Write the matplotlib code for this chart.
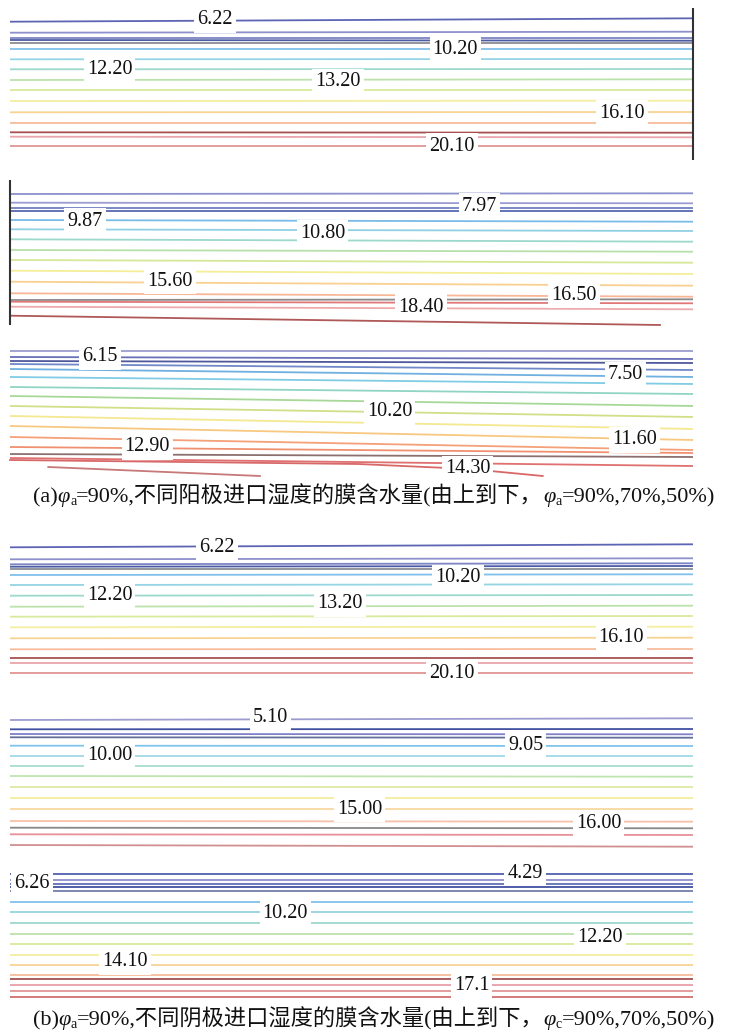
import matplotlib
matplotlib.use("Agg")
import matplotlib.pyplot as plt

# ===== 等值线数据（通道位置 0→1，y = 距面板顶部的像素位置）=====
# 面板1：阳极 90%
p1_left = [21.7, 32.7, 37.7, 40.0, 42.7, 49.3, 59.3, 69.3, 80.0, 90.0, 101.0, 112.3, 123.3, 132.3, 136.7, 146.0]
p1_right = [18.3, 31.7, 37.7, 40.7, 42.7, 49.3, 59.0, 69.0, 79.3, 90.0, 100.7, 112.0, 123.3, 132.7, 137.3, 146.0]
p1_text = ["6.22", "10.20", "12.20", "13.20", "16.10", "20.10"]

# 面板2：阳极 70%
p2_left = [24.0, 32.7, 37.7, 40.7, 50.0, 59.3, 69.3, 80.0, 90.0, 100.7, 111.7, 123.3, 130.0, 131.7, 136.7, 145.7]
p2_right = [23.3, 33.3, 37.7, 40.7, 51.7, 61.0, 71.7, 81.7, 92.7, 104.0, 115.7, 126.7, 129.3, 133.3, 139.3, 155.0]
p2_end = [1.0] * 15 + [0.953]
p2_text = ["9.87", "10.80", "7.97", "15.60", "18.40", "16.50"]

# 面板3：阳极 50%
p3_left = [21, 27, 31, 34, 39, 47, 57, 66, 76, 86, 96, 107, 117, 124, 128]
p3_right = [21, 29, 33, 40, 47, 54, 64, 76, 87, 99, 110, 120, 123, 127, 136]
p3_curve_x = [[0.0, 0.51, 0.673, 0.78], [0.056, 0.366]]
p3_curve_y = [[130, 134, 139, 146], [137, 146]]
p3_text = ["6.15", "7.50", "10.20", "12.90", "11.60", "14.30"]

# 面板4：阴极 90%
p4_left = [17.3, 29.3, 34.3, 36.7, 39.0, 45.0, 55.0, 65.7, 76.7, 86.7, 97.3, 108.3, 119.3, 128.3, 133.3, 142.7]
p4_right = [14.3, 28.3, 33.3, 36.0, 39.0, 44.3, 54.3, 65.0, 75.7, 86.0, 96.7, 107.7, 119.0, 128.3, 133.3, 142.7]
p4_text = ["6.22", "10.20", "12.20", "13.20", "16.10", "20.10"]

# 面板5：阴极 70%
p5_left = [20.0, 29.3, 34.0, 37.3, 45.7, 55.7, 65.7, 76.0, 87.3, 98.3, 109.3, 121.0, 127.7, 134.3, 145.0]
p5_right = [18.3, 29.0, 34.3, 37.7, 46.0, 55.7, 65.7, 76.7, 87.3, 98.3, 109.3, 121.7, 128.3, 135.0, 146.7]
p5_text = ["5.10", "10.00", "9.05", "15.00", "16.00"]

# 面板6：阴极 50%
p6_left = [19, 25, 29, 32, 36, 47, 57, 68, 79, 89, 100, 110, 120, 124, 130, 136, 142]
p6_right = [19, 25, 29, 32, 36, 47, 57, 68, 79, 89, 100, 110, 120, 124, 130, 136, 142]
p6_text = ["4.29", "6.26", "10.20", "12.20", "14.10", "17.1"]

# ===== 样式 =====
C16 = ['#5c64b4', '#8e90cc', '#7c84c4', '#4c5ca4', '#8a8c94', '#80c0ec', '#94d4e4', '#9cd8cc',
       '#bce2ac', '#d8ea9c', '#f4eea0', '#f8d494', '#f8bc9c', '#a85050', '#eaa4ac', '#e09494']
C_P2 = ['#8c90cc', '#9c9cd4', '#7080c0', '#5868b0', '#78bce8', '#90d0e4', '#9cd8cc', '#b8e0a8',
        '#d4e898', '#f4ee98', '#f8d090', '#f8b898', '#8a8a8a', '#e07878', '#eeaaaa', '#b05858']
C_P3 = ['#9c9cd0', '#6870b8', '#50589c', '#7088c8', '#70b0e0', '#80cce4', '#90d4c4', '#a8d898',
        '#d0e088', '#f4e890', '#f8c880', '#f4a078', '#f09070', '#8c7070', '#e07070']
C_P3_CURVE = ['#d86868', '#c87878']
C_P5 = ['#9c9cd0', '#4050a0', '#8080c8', '#607098', '#80c4ec', '#a0d8e8', '#a8dcd0', '#c0e4b0',
        '#dceaa0', '#f4ee9c', '#f8d8a0', '#f8c0a8', '#888888', '#e89098', '#d09090']
C_P6 = ['#5060b0', '#9090cc', '#6070b8', '#4050a0', '#7080a8', '#80c0ec', '#94d4e4', '#9cd8cc',
        '#bce2ac', '#d8ea9c', '#f4eea0', '#f8d494', '#f8bc9c', '#a05050', '#e8a0a8', '#e09494', '#d07070']

W, H = 732, 1032
X_LO, X_HI = -10 / 683, 722 / 683
SERIF = ['Liberation Serif', 'DejaVu Serif']
CAP_FAM = ['Liberation Serif', 'Noto Sans CJK SC', 'DejaVu Sans']
LW = 1.3

fig = plt.figure(figsize=(W / 100, H / 100), dpi=100)
fig.patch.set_facecolor('white')


def panel(top, h, left, right, colors, texts, tx, ty, end=None):
    ax = fig.add_axes([0, 1 - (top + h) / H, 1, h / H])
    ax.set_xlim(X_LO, X_HI)
    ax.set_ylim(h, 0)
    ax.axis('off')
    for i, (yl, yr) in enumerate(zip(left, right)):
        xe = 1.0 if end is None else end[i]
        ax.plot([0, xe], [yl, yr], color=colors[i], lw=LW, solid_capstyle='butt', zorder=1)
    for s, x, y in zip(texts, tx, ty):
        ax.text(x, y, s, family=SERIF, fontsize=14.5, color='#111111', ha='center', va='center',
                zorder=3, bbox=dict(boxstyle='square,pad=0.15', facecolor='white', edgecolor='none'))
    return ax


ax1 = panel(0, 165, p1_left, p1_right, C16, p1_text,
            [0.300, 0.652, 0.146, 0.480, 0.896, 0.647], [20, 50, 69, 82, 113, 146])
ax1.vlines(1.0, 8, 160, color='#333333', lw=1.5)

ax2 = panel(170, 160, p2_left, p2_right, C_P2, p2_text,
            [0.110, 0.458, 0.687, 0.234, 0.602, 0.826], [51, 63, 36, 111, 137, 125], end=p2_end)
ax2.vlines(0.0, 10, 155, color='#333333', lw=1.5)

ax3 = panel(330, 150, p3_left, p3_right, C_P3, p3_text,
            [0.132, 0.901, 0.556, 0.201, 0.914, 0.670], [27, 45, 82, 117, 110, 139])
for xs, ys, c in zip(p3_curve_x, p3_curve_y, C_P3_CURVE):
    ax3.plot(xs, ys, color=c, lw=LW, zorder=1)

panel(530, 160, p4_left, p4_right, C16, p4_text,
      [0.303, 0.656, 0.146, 0.483, 0.895, 0.647], [17, 48, 65, 74, 108, 143])
panel(700, 150, p5_left, p5_right, C_P5, p5_text,
      [0.381, 0.146, 0.755, 0.512, 0.862], [18, 56, 46, 109, 123])
panel(855, 150, p6_left, p6_right, C_P6, p6_text,
      [0.754, 0.032, 0.403, 0.864, 0.168, 0.676], [18, 29, 59, 83, 107, 131])


# ===== 图注（分段拼接，含下标）=====
def caption(y_px, parts):
    r = fig.canvas.get_renderer()
    objs = []
    for s, kw, dy, fs in parts:
        t = fig.text(0, 1 - (y_px + dy) / H, s, fontsize=fs, va='baseline', color='#111111', **kw)
        objs.append(t)
    widths = [t.get_window_extent(r).width for t in objs]
    x = (W - sum(widths)) / 2 + 8
    for t, w in zip(objs, widths):
        t.set_x(x / W)
        x += w


reg = dict(family=CAP_FAM)
ita = dict(family=SERIF, style='italic')
FS, SUB = 16, 10
caption(502, [("(a)", reg, 0, FS), ("φ", ita, 0, FS), ("a", reg, 3, SUB),
              ("=90%,不同阳极进口湿度的膜含水量(由上到下，", reg, 0, FS),
              ("φ", ita, 0, FS), ("a", reg, 3, SUB), ("=90%,70%,50%)", reg, 0, FS)])
caption(1025, [("(b)", reg, 0, FS), ("φ", ita, 0, FS), ("a", reg, 3, SUB),
               ("=90%,不同阴极进口湿度的膜含水量(由上到下，", reg, 0, FS),
               ("φ", ita, 0, FS), ("c", reg, 3, SUB), ("=90%,70%,50%)", reg, 0, FS)])

fig.savefig("out.png", dpi=100, facecolor='white')
